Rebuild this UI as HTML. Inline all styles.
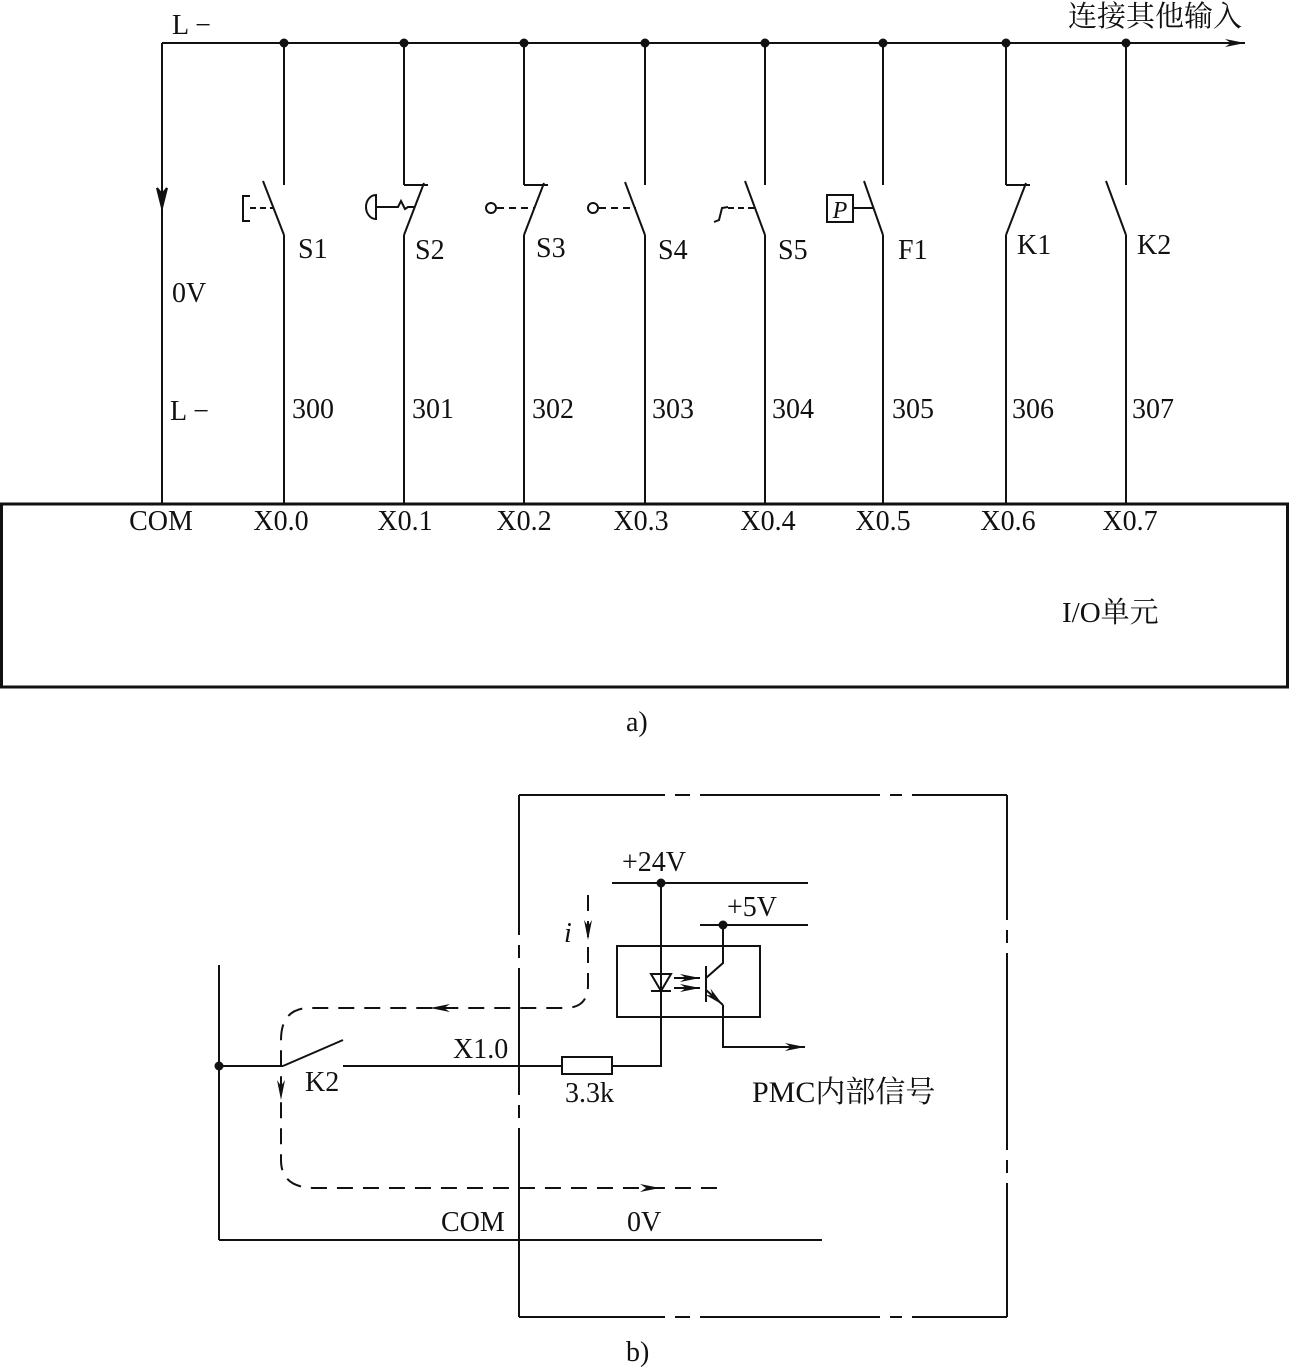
<!DOCTYPE html>
<html><head><meta charset="utf-8"><style>
html,body{margin:0;padding:0;background:#fff;}
svg{display:block;}
text{font-family:"Liberation Serif","Noto Serif CJK SC",serif;fill:#111;}
</style></head><body>
<svg width="1290" height="1367" viewBox="0 0 1290 1367" xmlns="http://www.w3.org/2000/svg">
<defs>
<marker id="ar" viewBox="0 0 20 10" refX="20" refY="5" markerWidth="20" markerHeight="10" markerUnits="userSpaceOnUse" orient="auto">
<path d="M0,1 L20,5 L0,9 L6,5 Z" fill="#111"/></marker>
</defs>
<g stroke="#111" stroke-width="2" fill="none">
<line x1="162" y1="43" x2="1245" y2="43" marker-end="url(#ar)"/>
<line x1="162" y1="43" x2="162" y2="505"/>
<path d="M157,188 L162,208 L167,188 L162,194 Z" fill="#111"/>
<g>
<line x1="284" y1="43" x2="284" y2="185"/><line x1="284" y1="235" x2="284" y2="505"/>
<line x1="404" y1="43" x2="404" y2="185"/><line x1="404" y1="235" x2="404" y2="505"/>
<line x1="524" y1="43" x2="524" y2="185"/><line x1="524" y1="235" x2="524" y2="505"/>
<line x1="645" y1="43" x2="645" y2="185"/><line x1="645" y1="235" x2="645" y2="505"/>
<line x1="765" y1="43" x2="765" y2="185"/><line x1="765" y1="235" x2="765" y2="505"/>
<line x1="883" y1="43" x2="883" y2="185"/><line x1="883" y1="235" x2="883" y2="505"/>
<line x1="1006" y1="43" x2="1006" y2="185"/><line x1="1006" y1="235" x2="1006" y2="505"/>
<line x1="1126" y1="43" x2="1126" y2="185"/><line x1="1126" y1="235" x2="1126" y2="505"/>
</g>
<line x1="263" y1="181" x2="284" y2="235"/>
<line x1="250" y1="208" x2="273" y2="208" stroke-dasharray="6 4"/>
<path d="M250,196 L243,196 L243,221 L250,221"/>
<line x1="404" y1="185" x2="428" y2="185"/><line x1="404" y1="235" x2="424" y2="183"/>
<path d="M376,195 A10,12 0 0 0 376,219 Z"/>
<path d="M376,207 L398,207 L401,201 L405,209 L408,207 L415,207"/>
<line x1="524" y1="185" x2="548" y2="185"/><line x1="524" y1="235" x2="544" y2="183"/>
<circle cx="491" cy="208" r="5"/>
<line x1="497" y1="208" x2="535" y2="208" stroke-dasharray="7 5"/>
<line x1="625" y1="182" x2="645" y2="235"/>
<circle cx="593" cy="208" r="5"/>
<line x1="599" y1="208" x2="636" y2="208" stroke-dasharray="7 5"/>
<line x1="745" y1="181" x2="765" y2="235"/>
<line x1="728" y1="208" x2="755" y2="208" stroke-dasharray="6 4"/>
<path d="M714,222 L719,220 L722,208 L728,207"/>
<line x1="864" y1="181" x2="883" y2="235"/>
<rect x="827" y="195" width="26" height="27"/>
<line x1="853" y1="208" x2="873" y2="208"/>
<line x1="1006" y1="185" x2="1030" y2="185"/><line x1="1006" y1="235" x2="1026" y2="183"/>
<line x1="1106" y1="181" x2="1126" y2="235"/>
<rect x="1.5" y="504" width="1286" height="183" stroke-width="3"/>
</g>
<g fill="#111">
<circle cx="284" cy="43" r="4.5"/><circle cx="404" cy="43" r="4.5"/><circle cx="524" cy="43" r="4.5"/><circle cx="645" cy="43" r="4.5"/><circle cx="765" cy="43" r="4.5"/><circle cx="883" cy="43" r="4.5"/><circle cx="1006" cy="43" r="4.5"/><circle cx="1126" cy="43" r="4.5"/>
</g>
<g font-size="28">
<text x="172" y="34">L −</text>
<text x="1068" y="26" font-size="29">连接其他输入</text>
<text x="172" y="302">0V</text>
<text x="170" y="420">L −</text>
<text x="298" y="258">S1</text><text x="415" y="259">S2</text><text x="536" y="257">S3</text><text x="658" y="259">S4</text><text x="778" y="259">S5</text><text x="898" y="259">F1</text><text x="1017" y="254">K1</text><text x="1137" y="254">K2</text>
<text x="840" y="218" font-style="italic" font-size="24" text-anchor="middle">P</text>
<text x="292" y="418">300</text><text x="412" y="418">301</text><text x="532" y="418">302</text><text x="652" y="418">303</text><text x="772" y="418">304</text><text x="892" y="418">305</text><text x="1012" y="418">306</text><text x="1132" y="418">307</text>
<g text-anchor="middle">
<text x="161" y="530">COM</text><text x="281" y="530">X0.0</text><text x="405" y="530">X0.1</text><text x="524" y="530">X0.2</text><text x="641" y="530">X0.3</text><text x="768" y="530">X0.4</text><text x="883" y="530">X0.5</text><text x="1008" y="530">X0.6</text><text x="1130" y="530">X0.7</text>
</g>
<text x="1062" y="622" font-size="29">I/O单元</text>
<text x="626" y="731">a)</text>
</g>
<g stroke="#111" stroke-width="2" fill="none">
<!-- dash-dot box -->
<path d="M519,795 H665 M675,795 H690 M700,795 H880 M890,795 H902 M912,795 H1007"/>
<path d="M519,1317 H665 M675,1317 H690 M700,1317 H880 M890,1317 H902 M912,1317 H1007"/>
<path d="M519,795 V935 M519,945 V958 M519,968 V1095 M519,1105 V1118 M519,1128 V1317"/>
<path d="M1007,795 V920 M1007,930 V943 M1007,953 V1150 M1007,1160 V1173 M1007,1183 V1317"/>
<line x1="219" y1="965" x2="219" y2="1240"/>
<line x1="219" y1="1240" x2="822" y2="1240"/>
<line x1="219" y1="1066" x2="283" y2="1066"/>
<line x1="283" y1="1066" x2="343" y2="1040"/>
<line x1="343" y1="1066" x2="562" y2="1066"/>
<rect x="562" y="1057" width="50" height="17"/>
<polyline points="612,1066 661,1066 661,883"/>
<line x1="612" y1="883" x2="808" y2="883"/>
<line x1="700" y1="925" x2="808" y2="925"/>
<rect x="617" y="946" width="143" height="71"/>
<path d="M651,974 L671,974 L661,991 Z"/>
<line x1="651" y1="991" x2="671" y2="991"/>
<line x1="674" y1="978" x2="700" y2="978" marker-end="url(#ar)"/>
<line x1="674" y1="988" x2="700" y2="988" marker-end="url(#ar)"/>
<line x1="706" y1="966" x2="706" y2="1002"/>
<polyline points="706,978 723,963 723,925"/>
<line x1="706" y1="990" x2="723" y2="1005" marker-end="url(#ar)"/>
<polyline points="723,1005 723,1047 805,1047" marker-end="url(#ar)"/>
<path d="M588,895 L588,985 Q588,1008 565,1008 L310,1008 Q281,1008 281,1040 L281,1160 Q281,1188 315,1188 L725,1188" stroke-dasharray="16 10"/>
</g>
<g fill="#111">
<circle cx="661" cy="883" r="4.5"/><circle cx="723" cy="925" r="4.5"/><circle cx="219" cy="1066" r="4.5"/>
<path d="M584,920 L588,940 L592,920 L588,926 Z"/>
<path d="M450,1004 L430,1008 L450,1012 L444,1008 Z"/>
<path d="M277,1080 L281,1100 L285,1080 L281,1086 Z"/>
<path d="M640,1184 L660,1188 L640,1192 L646,1188 Z"/>
</g>
<g font-size="28">
<text x="622" y="871">+24V</text>
<text x="727" y="916">+5V</text>
<text x="564" y="942" font-style="italic">i</text>
<text x="453" y="1058">X1.0</text>
<text x="305" y="1091">K2</text>
<text x="565" y="1102">3.3k</text>
<text x="752" y="1102" font-size="30">PMC内部信号</text>
<text x="441" y="1231">COM</text>
<text x="627" y="1231">0V</text>
<text x="626" y="1361">b)</text>
</g>
</svg>
</body></html>
